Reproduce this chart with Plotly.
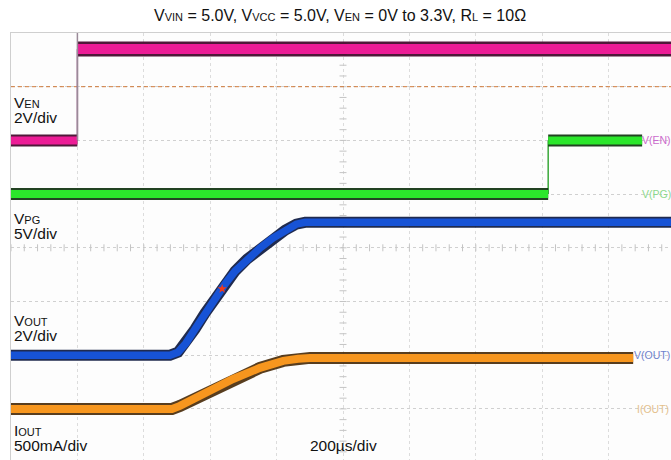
import plotly.graph_objects as go

# ---------------- data (time in µs, 200 µs/div, trigger at t = 0) ----------------
t_en = [-200, 0, 0, 1800]
v_en = [0.0, 0.0, 3.4, 3.4]                 # V

t_pg = [-200, 1418, 1418, 1701]
v_pg = [0.0, 0.0, 5.0, 5.0]                 # V

t_out = [-200, 279, 303, 327, 354, 384, 414, 444, 475, 511, 550, 589, 626, 659, 686, 1800]
v_out = [0.0, 0.0, 0.11, 0.45, 0.97, 1.56, 2.12, 2.64, 3.13, 3.58, 3.99, 4.36, 4.66, 4.88, 4.95, 4.95]

t_iout = [-200, 285, 309, 339, 391, 469, 550, 620, 665, 701, 1674]
i_out = [0, 0, 28, 74, 158, 279, 382, 447, 466, 475, 475]   # mA

trig_level = 2.0          # V on EN channel
cursor_t = 436
cursor_v = 2.47           # V on VOUT

# channel settings: (offset in div, units per div)
ch_en = (6.0, 2.0)
ch_pg = (5.0, 5.0)
ch_out = (2.0, 2.0)
ch_iout = (1.0, 500.0)

title_html = ('V<span style="font-size:11px">VIN</span> = 5.0V, '
              'V<span style="font-size:11px">VCC</span> = 5.0V, '
              'V<span style="font-size:11px">EN</span> = 0V to 3.3V, '
              'R<span style="font-size:11px">L</span> = 10Ω')

# ---------------- helpers ----------------
def scr(vals, ch):
    off, sc = ch
    return [off + v / sc for v in vals]

def split_steps(t, y):
    """flat segments (None-separated) and vertical edges"""
    ft, fy, et, ey = [], [], [], []
    for i in range(len(t)):
        if i > 0 and t[i] == t[i - 1]:
            ft.append(None); fy.append(None)
            et += [t[i - 1], t[i], None]; ey += [y[i - 1], y[i], None]
        ft.append(t[i]); fy.append(y[i])
    return ft, fy, et, ey

fig = go.Figure()

def band(x, y, bright, dark, wb, wd):
    fig.add_trace(go.Scatter(x=x, y=y, mode="lines", line=dict(color=dark, width=wd),
                             hoverinfo="skip", showlegend=False, connectgaps=False))
    fig.add_trace(go.Scatter(x=x, y=y, mode="lines", line=dict(color=bright, width=wb),
                             hoverinfo="skip", showlegend=False, connectgaps=False))

X0, X1 = -200, -200 + 660 / 66.4 * 200
Y1 = 8.0
Y0 = 8.0 - 427 / 53.7

# minor ticks on centre lines
cx = -200 + 5 * 200
tick_x = [-200 + k * 40 for k in range(0, 51)]
tick_y = [k * 0.2 for k in range(1, 40)]
fig.add_trace(go.Scatter(x=tick_x, y=[4.0] * len(tick_x), mode="markers",
                         marker=dict(symbol="line-ns", size=5, line=dict(color="#c4c4c4", width=1)),
                         hoverinfo="skip", showlegend=False))
fig.add_trace(go.Scatter(x=[cx] * len(tick_y), y=tick_y, mode="markers",
                         marker=dict(symbol="line-ew", size=5, line=dict(color="#c4c4c4", width=1)),
                         hoverinfo="skip", showlegend=False))

# trigger level line (EN channel)
fig.add_trace(go.Scatter(x=[X0, 1800], y=scr([trig_level, trig_level], ch_en), mode="lines",
                         line=dict(color="#d07a3a", width=1, dash="4px,3px"),
                         hoverinfo="skip", showlegend=False))

# trigger time marker line
fig.add_shape(type="line", x0=0, x1=0, y0=ch_en[0], y1=Y1, xref="x", yref="y",
              line=dict(color="#9a8a98", width=1.5))

# EN
ft, fy, et, ey = split_steps(t_en, scr(v_en, ch_en))
fig.add_trace(go.Scatter(x=et, y=ey, mode="lines", line=dict(color="#a05a90", width=1.5),
                         hoverinfo="skip", showlegend=False))
band(ft[:2], fy[:2], "#ec1c96", "rgba(60,0,35,0.9)", 8, 12)
band(ft[3:], fy[3:], "#ec1c96", "rgba(60,0,35,0.9)", 10, 15)

# PG
ft, fy, et, ey = split_steps(t_pg, scr(v_pg, ch_pg))
fig.add_trace(go.Scatter(x=et, y=ey, mode="lines", line=dict(color="#3aa83a", width=1.5),
                         hoverinfo="skip", showlegend=False))
band(ft, fy, "#2be62b", "rgba(10,45,10,0.9)", 8, 12)

# VOUT
band(t_out, scr(v_out, ch_out), "#1753d6", "rgba(8,20,60,0.9)", 7.5, 11)
# IOUT
band(t_iout, scr(i_out, ch_iout), "#f7961e", "rgba(70,40,5,0.9)", 8, 12)

# cursor marker
fig.add_trace(go.Scatter(x=[cursor_t], y=scr([cursor_v], ch_out), mode="markers",
                         marker=dict(symbol="star", size=7, color="#f03a1a"),
                         hoverinfo="skip", showlegend=False))
# trigger arrow
fig.add_trace(go.Scatter(x=[0], y=[Y1 + 0.02], mode="markers", cliponaxis=False,
                         marker=dict(symbol="triangle-down", size=6, color="#e8771e"),
                         hoverinfo="skip", showlegend=False))

FONT = "Liberation Sans, Arial, sans-serif"

def py(ypx):
    return (460 - ypx) / 427

def px(xpx):
    return (xpx - 11) / 660

ann = []
def label(text, xpx, ycen, size=15.5, color="#111111", xanchor="left"):
    ann.append(dict(text=text, x=px(xpx), y=py(ycen), xref="paper", yref="paper",
                    xanchor=xanchor, yanchor="middle", showarrow=False,
                    font=dict(family=FONT, size=size, color=color)))

sub = '<span style="font-size:11px">%s</span>'
label("V" + sub % "EN", 12, 102.5)
label("2V/div", 12, 117.5)
label("V" + sub % "PG", 12, 218.5)
label("5V/div", 12, 233.5)
label("V" + sub % "OUT", 12, 320.5)
label("2V/div", 12, 335.5)
label("I" + sub % "OUT", 12, 430.5)
label("500mA/div", 12, 445.5)
label("200µs/div", 308, 445.5)
label(title_html, 340, 16, size=16, xanchor="center")

label("V(EN)", 640, 140.5, size=10.5, color="#cc6acc")
label("V(PG)", 640, 194, size=10.5, color="#8cd88c")
label("V(OUT)", 632, 355, size=10.5, color="#6f82cc")
label("I(OUT)", 635, 409, size=10.5, color="#e4c08c")

fig.update_layout(
    width=671, height=460,
    margin=dict(l=11, r=0, t=33, b=0, pad=0),
    paper_bgcolor="white", plot_bgcolor="#fdfdfd",
    annotations=ann,
    xaxis=dict(range=[X0, X1], tick0=-200, dtick=200, showticklabels=False, ticks="",
               showgrid=True, gridcolor="#dcdcdc", gridwidth=1, griddash="dot",
               zeroline=False, showline=True, linecolor="#cfcfcf", mirror=True),
    yaxis=dict(range=[Y0, Y1], tick0=0, dtick=1, showticklabels=False, ticks="",
               showgrid=True, gridcolor="#d0d0d0", gridwidth=1, griddash="dot",
               zeroline=False, showline=True, linecolor="#cfcfcf", mirror=True),
)

fig.write_html("out.html", config={"displayModeBar": False},
               post_script="document.body.style.margin='0';document.body.style.overflow='hidden';")
